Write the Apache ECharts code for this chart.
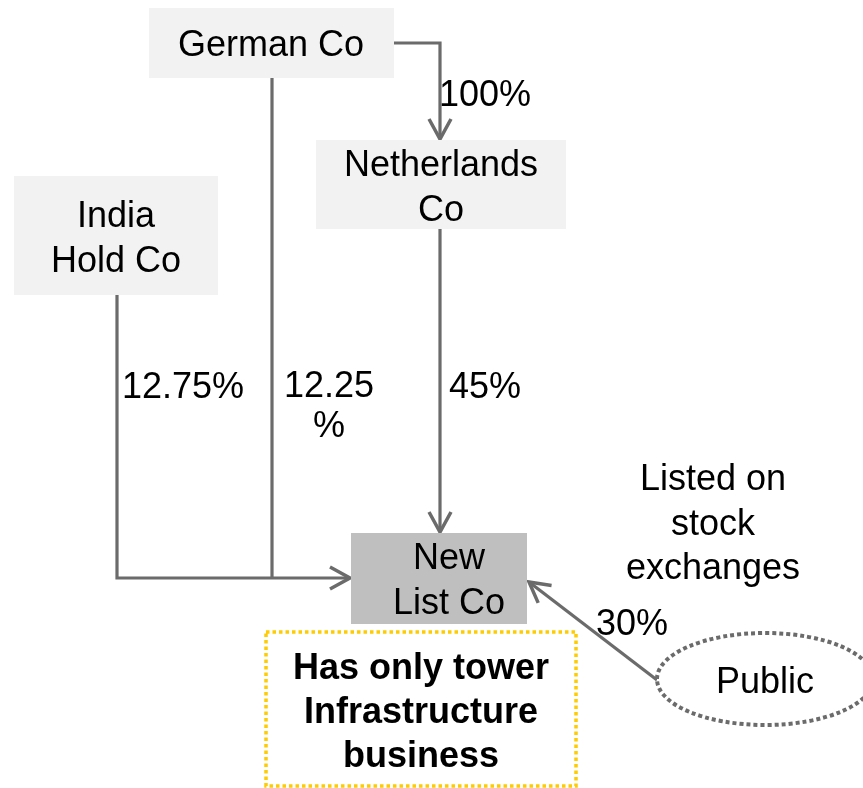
<!DOCTYPE html>
<html>
<head>
<meta charset="utf-8">
<script src="https://cdn.jsdelivr.net/npm/echarts@6/dist/echarts.min.js"></script>
<style>
html,body{margin:0;padding:0;background:#fff;}
#chart{width:863px;height:788px;}
</style>
</head>
<body>
<div id="chart"></div>
<script>
// ---- content ----
const entities = ['German Co', 'Netherlands\nCo', 'India\nHold Co', 'New\nList Co', 'Public'];
const stakes = ['100%', '45%', '12.75%', '12.25\n%', '30%'];
const notes = ['Listed on\nstock\nexchanges', 'Has only tower\nInfrastructure\nbusiness'];

// ---- layout (diagram units on a 863 x 788 plane) ----
const boxLayout = [
  { kind: 'rect', x: 149, y: 8, w: 245, h: 70, fill: '#f2f2f2' },
  { kind: 'rect', x: 316, y: 140, w: 250, h: 89, fill: '#f2f2f2' },
  { kind: 'rect', x: 14, y: 176, w: 204, h: 119, fill: '#f2f2f2' },
  { kind: 'rect', x: 351, y: 533, w: 176, h: 91, fill: '#bfbfbf' },
  { kind: 'ellipse', cx: 765, cy: 679, rx: 108, ry: 46 }
];
const boxText = [[271, 46], [441, 189], [116, 240], [449, 582], [765, 683]];
const edgeLayout = [
  { path: [[394, 43], [440, 43], [440, 139]], arrow: true, label: [485, 96], lh: 45 },
  { path: [[440, 229], [440, 532]], arrow: true, label: [485, 388], lh: 45 },
  { path: [[117, 295], [117, 578], [350, 578]], arrow: true, label: [183, 388], lh: 45 },
  { path: [[272, 78], [272, 578]], arrow: false, label: [329, 407], lh: 40 },
  { path: [[657, 680], [529, 582]], arrow: true, label: [632, 625], lh: 45 }
];
const noteLayout = [
  { center: [713, 525], lh: 44.5, bold: false, frame: null },
  { center: [421, 713], lh: 44, bold: true, frame: { x: 266, y: 632, w: 310, h: 154 } }
];

const LINE = '#6b6b6b';
const FONT = 'Liberation Sans, Arial, sans-serif';

const chart = echarts.init(document.getElementById('chart'));

function P(api, p) { return api.coord(p); }

function textEl(api, txt, c, lh, bold) {
  const pt = P(api, c);
  return {
    type: 'text',
    style: {
      text: txt, x: pt[0], y: pt[1],
      fill: '#000', fontSize: 36, fontFamily: FONT,
      fontWeight: bold ? 'bold' : 'normal',
      lineHeight: lh, align: 'center', verticalAlign: 'middle'
    }
  };
}

const option = {
  animation: false,
  backgroundColor: '#fff',
  grid: { left: 0, right: 0, top: 0, bottom: 0 },
  xAxis: { type: 'value', min: 0, max: 863, show: false },
  yAxis: { type: 'value', min: 0, max: 788, inverse: true, show: false },
  series: [
    {
      type: 'custom', name: 'stakes',
      data: stakes.map((s, i) => [i, 0]),
      clip: false,
      renderItem: function (params, api) {
        const e = edgeLayout[params.dataIndex];
        const pts = e.path.map(p => P(api, p));
        const children = [{
          type: 'polyline',
          shape: { points: pts },
          style: { stroke: LINE, lineWidth: 3.2, fill: null, lineJoin: 'miter' }
        }];
        if (e.arrow) {
          const a = pts[pts.length - 2], b = pts[pts.length - 1];
          const dx = b[0] - a[0], dy = b[1] - a[1];
          const len = Math.sqrt(dx * dx + dy * dy);
          const ux = dx / len, uy = dy / len;
          const back = 20, wide = 11;
          const bx = b[0] - ux * back, by = b[1] - uy * back;
          children.push({
            type: 'polyline',
            shape: { points: [[bx - uy * wide, by + ux * wide], b, [bx + uy * wide, by - ux * wide]] },
            style: { stroke: LINE, lineWidth: 3.5, fill: null, lineJoin: 'miter' }
          });
        }
        children.push(textEl(api, stakes[params.dataIndex], e.label, e.lh, false));
        return { type: 'group', children: children };
      }
    },
    {
      type: 'custom', name: 'entities',
      data: entities.map((s, i) => [i, 0]),
      clip: false,
      renderItem: function (params, api) {
        const b = boxLayout[params.dataIndex];
        const children = [];
        if (b.kind === 'rect') {
          const p0 = P(api, [b.x, b.y]), p1 = P(api, [b.x + b.w, b.y + b.h]);
          children.push({
            type: 'rect',
            shape: { x: p0[0], y: p0[1], width: p1[0] - p0[0], height: p1[1] - p0[1] },
            style: { fill: b.fill }
          });
        } else {
          const c = P(api, [b.cx, b.cy]);
          const e = P(api, [b.cx + b.rx, b.cy + b.ry]);
          children.push({
            type: 'ellipse',
            shape: { cx: c[0], cy: c[1], rx: e[0] - c[0], ry: e[1] - c[1] },
            style: { fill: '#fff', stroke: LINE, lineWidth: 4, lineDash: [4, 3] }
          });
        }
        children.push(textEl(api, entities[params.dataIndex], boxText[params.dataIndex], 45, false));
        return { type: 'group', children: children };
      }
    },
    {
      type: 'custom', name: 'notes',
      data: notes.map((s, i) => [i, 0]),
      clip: false,
      renderItem: function (params, api) {
        const n = noteLayout[params.dataIndex];
        const children = [];
        if (n.frame) {
          const p0 = P(api, [n.frame.x, n.frame.y]), p1 = P(api, [n.frame.x + n.frame.w, n.frame.y + n.frame.h]);
          children.push({
            type: 'rect',
            shape: { x: p0[0], y: p0[1], width: p1[0] - p0[0], height: p1[1] - p0[1] },
            style: { fill: null, stroke: '#ffcc00', lineWidth: 3.5, lineDash: [3.5, 3] }
          });
        }
        children.push(textEl(api, notes[params.dataIndex], n.center, n.lh, n.bold));
        return { type: 'group', children: children };
      }
    }
  ]
};
chart.setOption(option);
</script>
</body>
</html>
